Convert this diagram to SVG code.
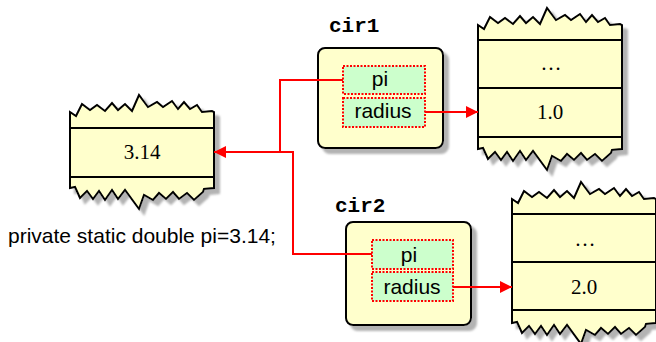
<svg xmlns="http://www.w3.org/2000/svg" xmlns:xlink="http://www.w3.org/1999/xlink" width="656" height="342" viewBox="0 0 656 342">
<style>
.jag{fill:#ffffcc;stroke:#000;stroke-width:2;stroke-linejoin:miter}
.sep{stroke:#000;stroke-width:2}
.obj{fill:#ffffcc;stroke:#000;stroke-width:2}
.fld{fill:#ccffcc;stroke:#ff0000;stroke-width:2;stroke-dasharray:2 1.5}
.ser{font-family:"Liberation Serif","Times New Roman",serif;font-size:21px;fill:#000;text-anchor:middle}
.sans{font-family:"Liberation Sans",Arial,sans-serif;font-size:21px;fill:#000}
.mono{font-family:"Liberation Mono","Courier New",monospace;font-size:21px;font-weight:bold;fill:#000}
.wire{fill:none;stroke:#ff0000;stroke-width:2}
</style>
<defs>
<filter id="sh" x="-10%" y="-10%" width="130%" height="130%">
<feDropShadow dx="5" dy="5" stdDeviation="0.8" flood-color="#999999" flood-opacity="0.75"/>
</filter>
<marker id="ah" markerUnits="userSpaceOnUse" markerWidth="12" markerHeight="12" refX="12" refY="6" orient="auto">
<path d="M0,0 L12,6 L0,12 Z" fill="#ff0000"/>
</marker>
<path id="jagS" d="M0,0 L6,4 L12,-8 L20,-2 L27,-7 L35,-1 L42,-9 L48,-2 L55,-8 L62,-1 L69,-17 L78,-5 L87,-10 L93,-5 L102,-11 L108,-3 L114,-10 L120,-3 L127,-7 L132,0 L142,-1 L144,0 L144,76 L134,77 L133,80 L124,88 L117,81 L109,87 L103,80 L96,87 L89,81 L83,88 L74,83 L69,97 L55,78 L48,87 L42,78 L35,88 L29,79 L23,87 L17,79 L10,86 L5,75 L0,76 Z"/>
<path id="jagT" d="M0,0 L6,4 L12,-8 L20,-2 L27,-7 L35,-1 L42,-9 L48,-2 L55,-8 L62,-1 L69,-17 L78,-5 L87,-10 L93,-5 L102,-11 L108,-3 L114,-10 L120,-3 L127,-7 L132,0 L142,-1 L144,0 L144,124 L134,125 L133,128 L124,136 L117,129 L109,135 L103,128 L96,135 L89,129 L83,136 L74,131 L69,145 L55,126 L48,135 L42,126 L35,136 L29,127 L23,135 L17,127 L10,134 L5,123 L0,124 Z"/>
</defs>

<g id="static-pi">
<use xlink:href="#jagS" href="#jagS" class="jag" filter="url(#sh)" transform="translate(70,112)"/>
<line class="sep" x1="70" y1="128" x2="214" y2="128"/>
<line class="sep" x1="70" y1="177" x2="214" y2="177"/>
<text class="ser" x="142" y="159">3.14</text>
</g>

<g id="cir1-obj">
<use xlink:href="#jagT" href="#jagT" class="jag" filter="url(#sh)" transform="translate(478,25)"/>
<line class="sep" x1="478" y1="40" x2="622" y2="40"/>
<line class="sep" x1="478" y1="88" x2="622" y2="88"/>
<line class="sep" x1="478" y1="137" x2="622" y2="137"/>
<text class="ser" x="551" y="70">…</text>
<text class="ser" x="550" y="119">1.0</text>
</g>

<g id="cir2-obj">
<use xlink:href="#jagT" href="#jagT" class="jag" filter="url(#sh)" transform="translate(512,199)"/>
<line class="sep" x1="512" y1="214" x2="656" y2="214"/>
<line class="sep" x1="512" y1="262" x2="656" y2="262"/>
<line class="sep" x1="512" y1="310" x2="656" y2="310"/>
<text class="ser" x="585" y="246">…</text>
<text class="ser" x="584" y="294">2.0</text>
</g>

<g id="cir1">
<text class="mono" x="329" y="32">cir1</text>
<rect class="obj" x="318" y="48" width="125" height="100" rx="7" filter="url(#sh)"/>
<rect class="fld" x="343" y="66" width="82" height="28"/>
<rect class="fld" x="343" y="98" width="82" height="29"/>
<text class="sans" x="380" y="86" text-anchor="middle">pi</text>
<text class="sans" x="383" y="118" text-anchor="middle">radius</text>
</g>

<g id="cir2">
<text class="mono" x="335" y="212">cir2</text>
<rect class="obj" x="346" y="222" width="125" height="103" rx="7" filter="url(#sh)"/>
<rect class="fld" x="372" y="240" width="81" height="29"/>
<rect class="fld" x="372" y="272" width="81" height="29"/>
<text class="sans" x="409" y="262" text-anchor="middle">pi</text>
<text class="sans" x="412" y="294" text-anchor="middle">radius</text>
</g>

<g id="decl">
<text class="sans" x="8" y="243">private static double pi=3.14;</text>
</g>

<g id="connectors">
<path class="wire" d="M343,80 H280 V152 H214" marker-end="url(#ah)"/>
<path class="wire" d="M372,254 H293 V152 H280"/>
<path class="wire" d="M425,112 H478" marker-end="url(#ah)"/>
<path class="wire" d="M453,287 H512" marker-end="url(#ah)"/>
</g>
</svg>
